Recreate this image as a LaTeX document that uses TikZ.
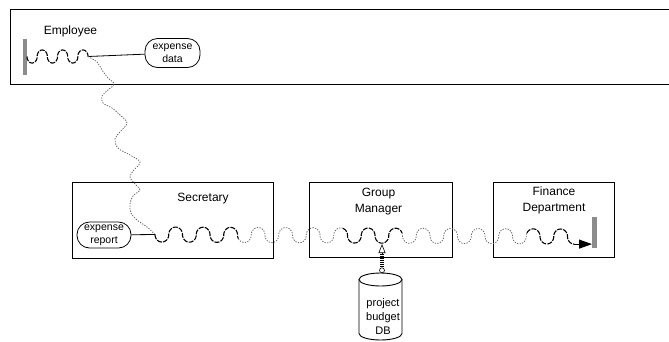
\documentclass[tikz,border=0pt]{standalone}
\usepackage{fontspec}
\setmainfont{Liberation Sans}
\usetikzlibrary{arrows.meta}
\begin{document}
\begin{tikzpicture}[x=1pt,y=-1pt,
  declare function={
    % thread of alternating half-ellipses, parameter in degrees
    thk(\t)=floor(\t/180);
    thx(\t)=155+13.75*(thk(\t)+(1-cos(\t-180*thk(\t)))/2);
    thy(\t)=234.5+0.00038*\t+7.5*sin(\t);
    emx(\t)=27+10.17*(thk(\t)+(1-cos(\t-180*thk(\t)))/2);
    emy(\t)=56.5+6.5*sin(\t);
  },
  lane/.style={draw, line width=0.9pt, inner sep=0pt, outer sep=0pt},
  lbl/.style={font=\fontsize{12}{15.6}\selectfont, align=center, inner sep=0pt},
  datum/.style={draw, line width=0.8pt, rounded corners=12.5pt, inner sep=0pt,
    align=center, font=\fontsize{10.5}{13.2}\selectfont},
  bar/.style={fill=gray!90, inner sep=0pt, outer sep=0pt},
  actwave/.style={line width=1.1pt, dash pattern=on 5pt off 1.2pt},
  handoff/.style={draw={rgb,255:red,105;green,105;blue,105}, line width=0.8pt,
    dash pattern=on 1.3pt off 1.3pt},
  link/.style={line width=0.8pt},
  dbfeed/.style={line width=4pt, dash pattern=on 1pt off 1pt},
]
\useasboundingbox (0,0) rectangle (669,341);
\clip (0,0) rectangle (669,341);

% swimlanes
\node[lane, anchor=north west, minimum width=680, minimum height=75] (emp) at (10,9) {};
\node[lane, anchor=north west, minimum width=201, minimum height=76] (sec) at (72,182) {};
\node[lane, anchor=north west, minimum width=143, minimum height=75] (gm) at (309,182) {};
\node[lane, anchor=north west, minimum width=121, minimum height=75] (fin) at (493,182) {};

% lane titles
\node[lbl] (emptitle) at (70.5,31.8) {Employee};
\node[lbl] (sectitle) at (203,198.3) {Secretary};
\node[lbl] (gmtitle) at (378.5,201.4) {Group\\Manager};
\node[lbl] (fintitle) at (554,200.6) {Finance\\Department};

% start and end bars
\node[bar, minimum width=4.5, minimum height=36] (empbar) at (25,56.5) {};
\node[bar, minimum width=5, minimum height=31] (finbar) at (594.5,232) {};

% data items
\node[datum, minimum width=55, minimum height=29] (expdata) at (172.5,53) {expense\\data};
\node[datum, minimum width=54, minimum height=26] (expreport) at (104,235) {expense\\report};

% database
\node[inner sep=0pt, minimum width=43, minimum height=67] (db) at (380.5,306.5) {};
\draw[line width=0.9pt] (380.5,279.5) ellipse [x radius=21.5pt, y radius=6.5pt];
\draw[line width=0.9pt] (359,279.5) -- (359,333.5)
  arc[start angle=180, end angle=360, x radius=21.5pt, y radius=6.5pt] -- (402,279.5);
\node[font=\fontsize{11}{14}\selectfont, align=center, inner sep=0pt] (dbtitle) at (383,316.5)
  {project\\budget\\DB};

% key points on the thread
\coordinate (empend) at (88,56.5);
\coordinate (secstart) at (155,234.5);
\coordinate (gmhit) at (382,244);
\coordinate (gmtap) at (382,254);
\coordinate (finend) at ({thx(5490)},{thy(5490)});

% employee activity
\draw[actwave] plot[domain=0:1080, samples=181, variable=\t] ({emx(\t)},{emy(\t)});
\draw[link] (empend) -- (expdata);

% hand-off from employee to secretary
\draw[handoff] plot[smooth, tension=0.6] coordinates {
  (88,56.5) (97,62) (102,70) (108,78) (114,84) (108,90) (102,96) (103,103)
  (112,108) (120,115) (127,123) (120,132) (115,139) (118,148) (130,155)
  (140,162) (134,170) (130,177) (136,185) (140,190) (133,196) (130,204)
  (131,213) (137,220) (147,227) (155,234.5)};

% main thread
\draw[link] (expreport) -- (secstart);
\draw[actwave] plot[domain=0:1110, samples=186, variable=\t] ({thx(\t)},{thy(\t)});
\draw[handoff] plot[domain=1110:2450, samples=224, variable=\t] ({thx(\t)},{thy(\t)});
\draw[actwave] plot[domain=2450:3218, samples=129, variable=\t] ({thx(\t)},{thy(\t)});
\draw[handoff] plot[domain=3218:4886, samples=279, variable=\t] ({thx(\t)},{thy(\t)});
\draw[actwave] plot[domain=4886:5490, samples=101, variable=\t] ({thx(\t)},{thy(\t)});
\draw[line width=1.1pt, -{Triangle[length=13pt, width=9pt]}] (finend) -- (finend -| finbar.west);

% budget lookup
\draw[dbfeed] (gmtap |- db.north) ++(0,-2) -- (gmtap);
\draw[line width=0.6pt, fill=white] (gmtap |- db.north) ++(0,-2.5) circle (2.5pt);
\draw[line width=0.6pt, -{Triangle[open, length=9pt, width=7pt]}] (gmtap) -- (gmhit);
\end{tikzpicture}
\end{document}
